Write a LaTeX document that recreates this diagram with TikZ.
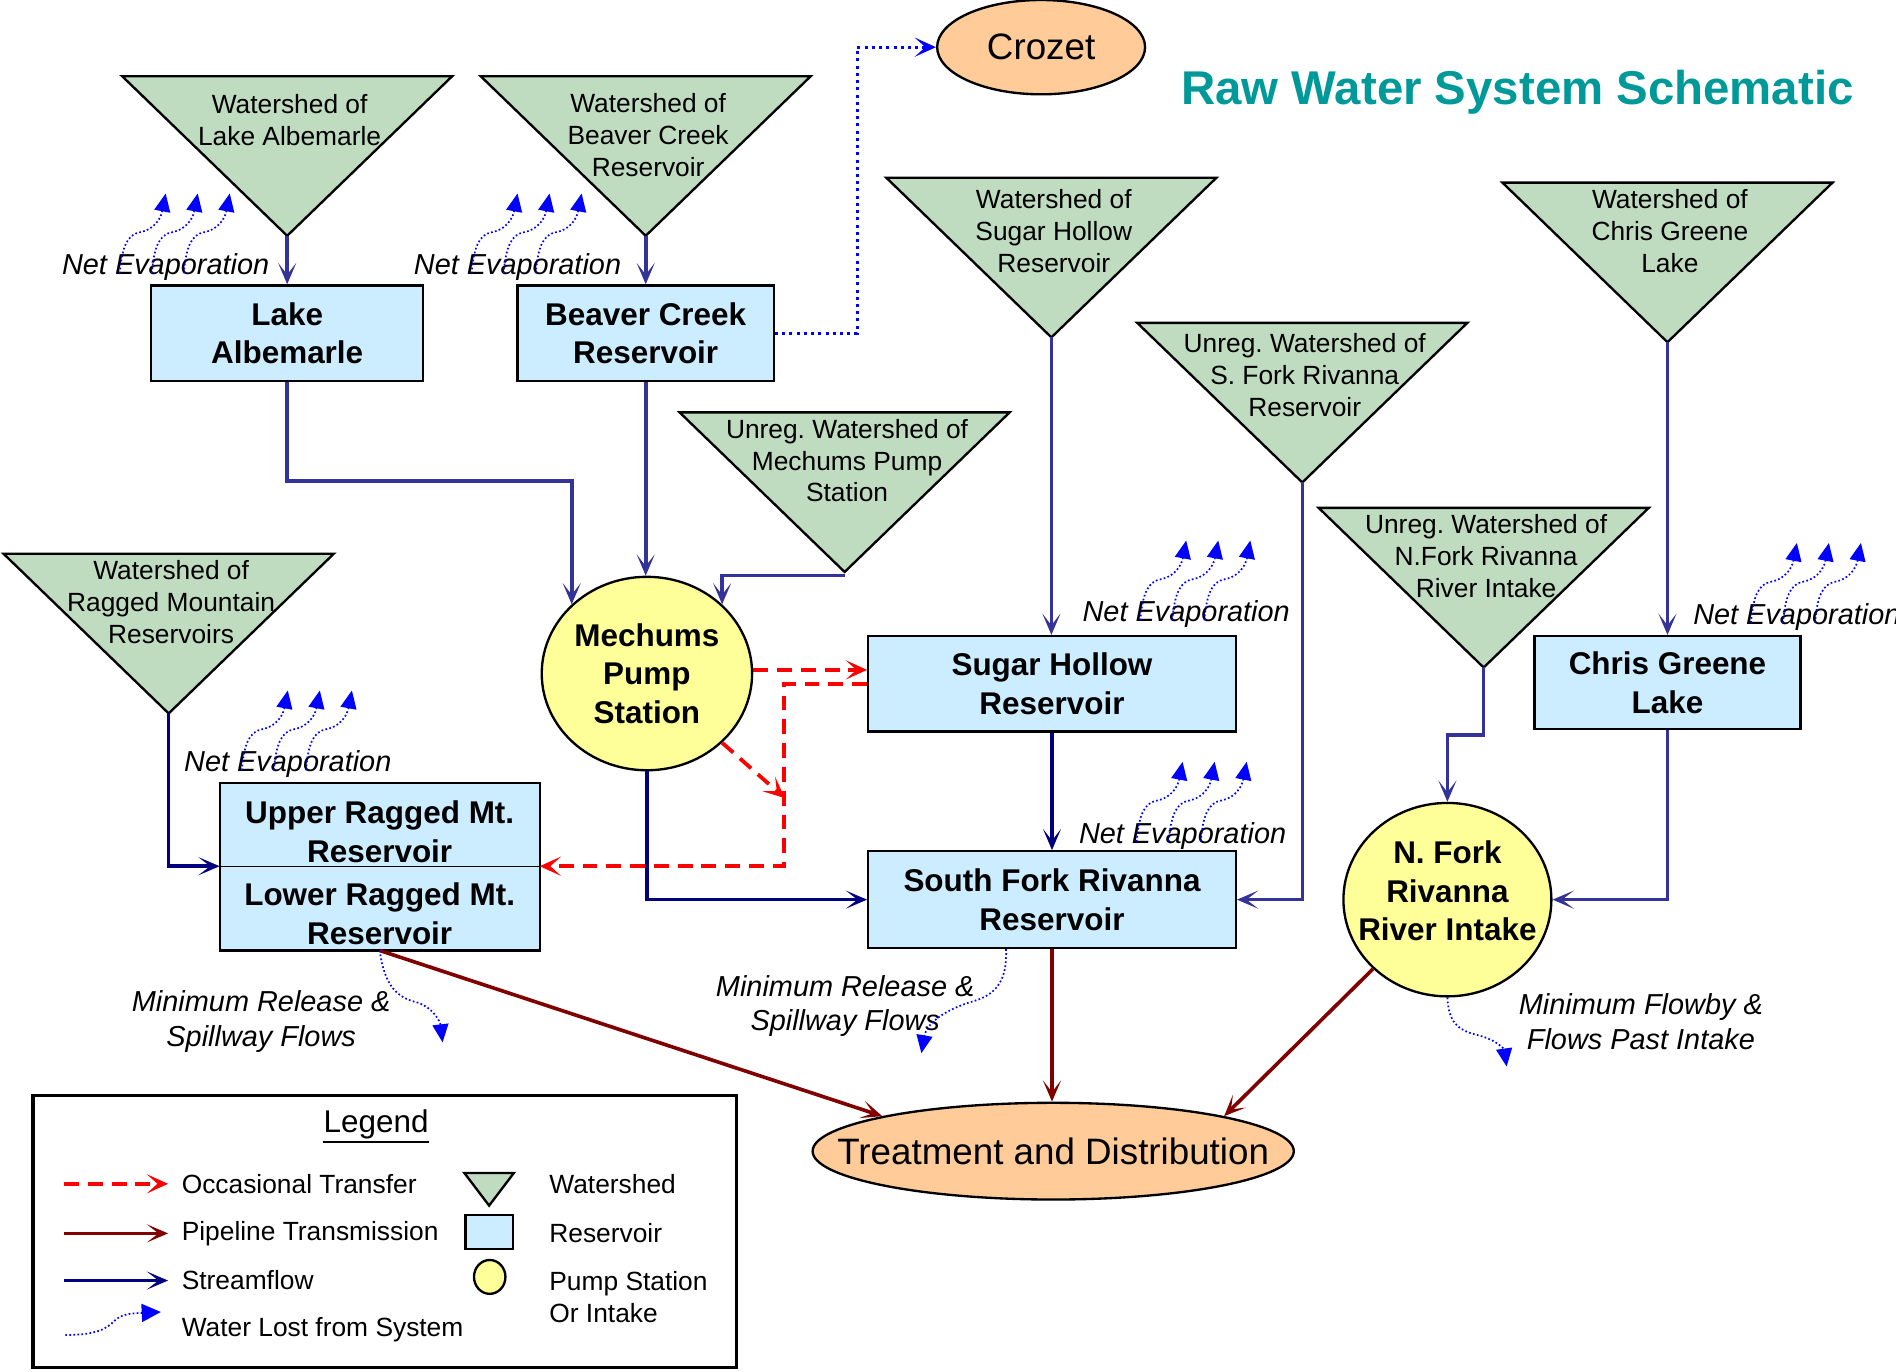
\documentclass[tikz,border=0pt]{standalone}
\usepackage{fontspec}
\setmainfont{Liberation Sans}
\usetikzlibrary{arrows.meta,positioning,shapes.geometric}
\definecolor{WsGreen}{HTML}{C0DCC0}
\definecolor{ResBlue}{HTML}{CCECFF}
\definecolor{PumpYellow}{HTML}{FFFF99}
\definecolor{Peach}{HTML}{FFCC99}
\definecolor{Stream}{HTML}{333399}
\definecolor{Navy}{HTML}{000080}
\definecolor{Pipe}{HTML}{800000}
\definecolor{Teal}{HTML}{009999}
\frenchspacing

\begin{document}
\begin{tikzpicture}[
        %Environment Cfg.
        x=0.02cm, y=-0.02cm,
        %Environment Styles.
        wsShape/.style={fill=WsGreen, draw=black, line width=1.1pt, line join=miter},
        wsText/.style={align=center, inner sep=0pt, font=\fontsize{12.4}{15}\selectfont},
        boxText/.style={align=center, inner sep=0pt, font=\bfseries\fontsize{14.8}{18.1}\selectfont},
        resBox/.style={rectangle, draw=black, fill=ResBlue, line width=1.1pt, boxText},
        resFill/.style={rectangle, fill=ResBlue, inner sep=0pt},
        pump/.style={ellipse, draw=black, fill=PumpYellow, line width=1.1pt, boxText},
        dest/.style={ellipse, draw=black, fill=Peach, line width=1.1pt, inner sep=0pt},
        destText/.style={inner sep=0pt, font=\fontsize{17.3}{20}\selectfont},
        stream/.style={draw=Stream, line width=1.7pt, -{Stealth[length=10pt,width=8.5pt,inset=5.5pt]}},
        navyStream/.style={stream, draw=Navy},
        pipe/.style={draw=Pipe, line width=1.7pt, -{Stealth[length=10pt,width=8.5pt,inset=5.5pt]}},
        transfer/.style={draw=red, line width=1.8pt, dash pattern=on 7pt off 4.2pt, -{Stealth[length=10pt,width=9pt,inset=5pt]}},
        toCrozet/.style={draw=blue, line width=1.5pt, dash pattern=on 1.4pt off 2pt, -{Stealth[length=10pt,width=9pt,inset=5pt]}},
        lost/.style={draw=blue, line width=0.8pt, dash pattern=on 0.8pt off 1.1pt, -{Triangle[length=8.5pt,width=7.5pt]}},
        evapText/.style={inner sep=0pt, align=center, font=\itshape\fontsize{13.6}{16.4}\selectfont},
        legText/.style={anchor=west, inner sep=0pt, font=\fontsize{12.4}{15}\selectfont},
    ]
    \useasboundingbox (0,0) rectangle (1568,1134);

    %\Watershed[name][text offset]{top centre}{text}
    \def\Watershed[#1][#2]#3#4{
        \begin{scope}[shift={(#3)}]
            \draw[wsShape] (-136.5,0) -- (136.5,0) -- (0,132) -- cycle;
            \coordinate (#1) at (0,132);
            \node[wsText] (#1-txt) at (2,#2) {#4};
        \end{scope}
    }
    %\NetEvap[name]{label centre}
    \def\NetEvap[#1]#2{
        \node[evapText] (#1) at (#2) {Net Evaporation};
        \foreach \k in {0,1,2}
            \draw[lost, shift={(#2)}, shift={(26.5*\k,0)}] (-38,5) .. controls (-36,-17) and (-32,-27) .. (-21,-29) .. controls (-10,-31) and (-4,-40) .. (0,-61);
    }

    %Title
    \node[font=\bfseries\fontsize{22.3}{26}\selectfont, text=Teal, anchor=base] (TITLE) at (1255,86) {Raw Water System Schematic};

    %Watersheds
    \Watershed[WS-LA][36]{237.5,63}{Watershed of\\Lake Albemarle}
    \Watershed[WS-BC][49]{534,63}{Watershed of\\Beaver Creek\\Reservoir}
    \Watershed[WS-SH][44]{869.5,147}{Watershed of\\Sugar Hollow\\Reservoir}
    \Watershed[WS-CG][40]{1379,151}{Watershed of\\Chris Greene\\Lake}
    \Watershed[WS-SF][43]{1077,267}{Unreg. Watershed of\\S. Fork Rivanna\\Reservoir}
    \Watershed[WS-MP][40]{698.5,341}{Unreg. Watershed of\\Mechums Pump\\Station}
    \Watershed[WS-NF][40]{1227,420}{Unreg. Watershed of\\N.Fork Rivanna\\River Intake}
    \Watershed[WS-RM][40]{139.5,458}{Watershed of\\Ragged Mountain\\Reservoirs}

    %Reservoirs
    \node[resBox, minimum width=4.5cm, minimum height=1.58cm] (RES-LA) at (237.5,275.5) {Lake\\Albemarle};
    \node[resBox, minimum width=4.24cm, minimum height=1.58cm] (RES-BC) at (534,275.5) {Beaver Creek\\Reservoir};
    \node[resBox, minimum width=6.08cm, minimum height=1.58cm] (RES-SH) at (870,565.5) {Sugar Hollow\\Reservoir};
    \node[resBox, minimum width=4.4cm, minimum height=1.54cm] (RES-CG) at (1379,564.5) {Chris Greene\\Lake};
    \node[resBox, minimum width=6.08cm, minimum height=1.6cm] (RES-SFR) at (870,744) {South Fork Rivanna\\Reservoir};
    \node[resFill, minimum width=5.28cm, minimum height=1.36cm] (RES-URM) at (314,682) {};
    \node[resFill, minimum width=5.28cm, minimum height=1.38cm, below=0pt of RES-URM] (RES-LRM) {};
    \draw[line width=1.1pt] (RES-URM.north west) rectangle (RES-LRM.south east);
    \draw[thin] (RES-URM.south west) -- (RES-URM.south east);
    \node[boxText] (RES-URM-txt) at (314,688) {Upper Ragged Mt.\\Reservoir};
    \node[boxText] (RES-LRM-txt) at (314,755.5) {Lower Ragged Mt.\\Reservoir};

    %Pump station, intake and destinations
    \node[pump, minimum width=3.48cm, minimum height=3.2cm] (MPS) at (535,557) {Mechums\\Pump\\Station};
    \node[pump, minimum width=3.44cm, minimum height=3.2cm] (NFI) at (1197,744) {};
    \node[boxText] (NFI-txt) at ([yshift=0.14cm]NFI.center) {N. Fork\\Rivanna\\River Intake};
    \node[dest, minimum width=3.44cm, minimum height=1.56cm] (CRZ) at (861,39) {};
    \node[destText] (CRZ-txt) at (CRZ) {Crozet};
    \node[dest, minimum width=7.96cm, minimum height=1.6cm] (TD) at (871,952) {};
    \node[destText] (TD-txt) at (TD) {Treatment and Distribution};

    %Streamflow
    \draw[stream] (WS-LA) -- (WS-LA |- RES-LA.north);
    \draw[stream] (WS-BC) -- (WS-BC |- RES-BC.north);
    \draw[stream] (WS-SH) -- (WS-SH |- RES-SH.north);
    \draw[stream] (WS-CG) -- (WS-CG |- RES-CG.north);
    \draw[stream] (RES-LA.south) -- ++(0,82) -| (MPS.north west);
    \draw[stream] (RES-BC.south) -- (RES-BC.south |- MPS.north);
    \draw[stream] ([yshift=-0.06cm]WS-MP) -| (MPS.north east);
    \draw[stream] (WS-SF) |- (RES-SFR.east);
    \draw[stream] (WS-NF) -- ++(0,56) -| (NFI.north);
    \draw[stream] (RES-CG.south) |- (NFI.east);
    \draw[navyStream] (RES-SH.south) -- (RES-SFR.north);
    \draw[navyStream] (MPS.south) |- (RES-SFR.west);
    \draw[navyStream] (WS-RM) |- (RES-URM.south west);

    %Pipelines
    \draw[pipe] (RES-LRM.south) -- (TD.north west);
    \draw[pipe] (RES-SFR.south) -- (RES-SFR.south |- TD.north);
    \draw[pipe] (NFI.south west) -- (TD.north east);

    %Occasional transfers
    \coordinate (TR-A) at ([yshift=0.06cm]MPS.east);
    \coordinate (TR-J) at (649,660);
    \draw[transfer] (TR-A) -- (TR-A -| RES-SH.west);
    \draw[transfer] (RES-SH.west) -- ++(-69,0) |- (RES-URM.south east);
    \draw[transfer] (MPS.south east) -- (TR-J);

    %To Crozet
    \draw[toCrozet] (RES-BC.east) -- ++(68,0) |- (CRZ.west);

    %Net evaporation
    \NetEvap[EV-LA]{137,221}
    \NetEvap[EV-BC]{428,221}
    \NetEvap[EV-RM]{238,632}
    \NetEvap[EV-SH]{981,508}
    \NetEvap[EV-SF]{978,691}
    \NetEvap[EV-CG]{1486,510}

    %Releases and flowby
    \node[evapText] (REL-RM) at (216,845) {Minimum Release \&\\Spillway Flows};
    \node[evapText] (REL-SF) at (699,832) {Minimum Release \&\\Spillway Flows};
    \node[evapText] (REL-NF) at (1357,845) {Minimum Flowby \&\\Flows Past Intake};
    \coordinate (LOSS-RM) at (366,862);
    \coordinate (LOSS-SF) at (762,871);
    \coordinate (LOSS-NF) at (1246,882);
    \draw[lost] (RES-LRM.south) .. controls (318,815) and (328,825) .. (345,829) .. controls (358,833) and (364,845) .. (LOSS-RM);
    \draw[lost] ([xshift=-0.76cm]RES-SFR.south) .. controls (833,808) and (826,822) .. (805,828) .. controls (778,836) and (766,848) .. (LOSS-SF);
    \draw[lost] (NFI.south) .. controls (1198,845) and (1205,852) .. (1222,856) .. controls (1238,860) and (1244,868) .. (LOSS-NF);

    %Legend
    \node[draw, line width=1.7pt, minimum width=11.64cm, minimum height=4.5cm] (LEGEND) at (318,1018.5) {};
    \node[font=\fontsize{14.8}{18}\selectfont, inner sep=0pt] (LG-title) at (311,930) {Legend};
    \draw[line width=1pt] ([yshift=-1pt]LG-title.south west) -- ([yshift=-1pt]LG-title.south east);
    \node[legText] (LG-OT) at (150,979) {Occasional Transfer};
    \node[legText] (LG-PT) at (150,1020) {Pipeline Transmission};
    \node[legText] (LG-SF) at (150,1059) {Streamflow};
    \node[legText] (LG-WL) at (150,1100) {Water Lost from System};
    \node[legText] (LG-WS) at (454,979) {Watershed};
    \node[legText] (LG-RS) at (454,1020) {Reservoir};
    \node[legText, align=left] (LG-PS) at (454,1073) {Pump Station\\Or Intake};
    \draw[transfer] ([xshift=-1.94cm]LG-OT.west) -- ([xshift=-0.22cm]LG-OT.west);
    \draw[pipe] ([xshift=-1.94cm]LG-PT.west) -- ([xshift=-0.22cm]LG-PT.west);
    \draw[navyStream] ([xshift=-1.94cm]LG-SF.west) -- ([xshift=-0.22cm]LG-SF.west);
    \coordinate (LG-w0) at (54,1104);
    \coordinate (LG-w1) at (133,1085);
    \draw[lost, -{Triangle[length=9pt,width=8.5pt]}] (LG-w0) .. controls (80,1104) and (88,1099) .. (95,1092) .. controls (101,1086) and (112,1086) .. (LG-w1);
    \draw[wsShape] (384,970) -- (425,970) -- (404.5,997) -- cycle;
    \node[resBox, minimum width=0.78cm, minimum height=0.56cm] (LG-res) at (404.5,1019) {};
    \node[pump, minimum width=0.52cm, minimum height=0.56cm] (LG-pump) at (405,1056) {};

\end{tikzpicture}
\end{document}
